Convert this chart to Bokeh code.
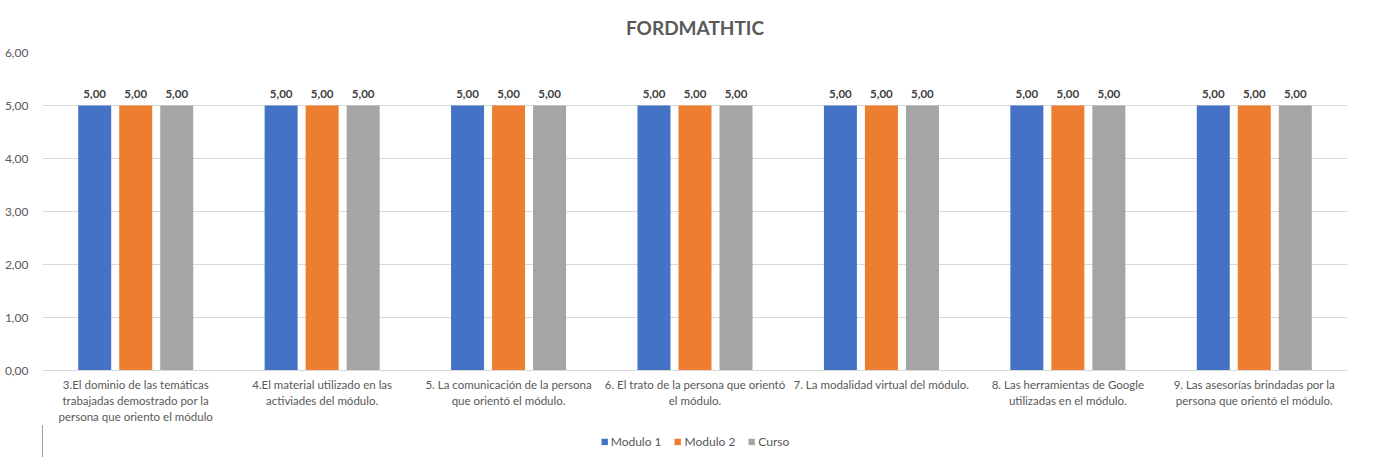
from bokeh.plotting import figure
from bokeh.layouts import column
from bokeh.models import (ColumnDataSource, FixedTicker, LabelSet, Legend, LegendItem,
                          Range1d, LinearAxis)
from bokeh.core.properties import value
from bokeh.transform import dodge
from bokeh.embed import file_html
from bokeh.resources import INLINE

category_lines = [
    ["3.El dominio de las temáticas", "trabajadas demostrado por la", "persona que oriento el módulo"],
    ["4.El material utilizado en las", "activiades del módulo."],
    ["5. La comunicación de la persona", "que orientó el módulo."],
    ["6. El trato de la persona que orientó", "el módulo."],
    ["7. La modalidad virtual del módulo."],
    ["8. Las herramientas de Google", "utilizadas en el módulo."],
    ["9. Las asesorías brindadas por la", "persona que orientó el módulo."],
]
series_names = ["Modulo 1", "Modulo 2", "Curso"]
modulo1 = [5.0, 5.0, 5.0, 5.0, 5.0, 5.0, 5.0]
modulo2 = [5.0, 5.0, 5.0, 5.0, 5.0, 5.0, 5.0]
curso = [5.0, 5.0, 5.0, 5.0, 5.0, 5.0, 5.0]
y_ticks = [0, 1, 2, 3, 4, 5, 6]
y_tick_labels = ["0,00", "1,00", "2,00", "3,00", "4,00", "5,00", "6,00"]
colors = ["#4472C4", "#ED7D31", "#A5A5A5"]

FONT = "Lato"
GRAY = "#595959"

def fmt(v):
    return f"{v:.2f}".replace(".", ",")

idx = list(range(len(category_lines)))
source = ColumnDataSource(data=dict(
    x=idx,
    m1=modulo1, m2=modulo2, cu=curso,
    m1_l=[fmt(v) for v in modulo1],
    m2_l=[fmt(v) for v in modulo2],
    cu_l=[fmt(v) for v in curso],
))

p = figure(
    x_range=Range1d(-0.5, len(idx) - 0.5),
    y_range=Range1d(0, 6),
    frame_width=1305, frame_height=318,
    min_border_left=42, min_border_right=15, min_border_top=52, min_border_bottom=0,
    output_backend="svg", toolbar_location=None,
    title="FORDMATHTIC",
)
p.title.align = "center"
p.title.text_font = FONT
p.title.text_font_size = "19px"
p.title.text_font_style = "bold"
p.title.text_color = GRAY
p.title.standoff = 27

offsets = [-0.22, 0.0, 0.22]
cols = ["m1", "m2", "cu"]
for col, off, color in zip(cols, offsets, colors):
    p.vbar(x=dodge("x", off), top=col, width=0.177,
           source=source, color=color, line_color=None)
    lbl = LabelSet(x=dodge("x", off), y=col, text=col + "_l",
                   source=source, text_align="center", text_baseline="bottom",
                   y_offset=8, text_font=value(FONT), text_font_size=value("11.5px"),
                   text_font_style="bold", text_color="#404040")
    p.add_layout(lbl)

p.outline_line_color = None
p.background_fill_color = "white"
p.border_fill_color = "white"

p.yaxis.ticker = FixedTicker(ticks=y_ticks)
p.yaxis.major_label_overrides = {t: l for t, l in zip(y_ticks, y_tick_labels)}
p.yaxis.axis_line_color = None
p.yaxis.major_tick_line_color = None
p.yaxis.minor_tick_line_color = None
p.yaxis.major_tick_out = 0
p.yaxis.major_label_text_font = FONT
p.yaxis.major_label_text_font_size = "12px"
p.yaxis.major_label_text_color = GRAY
p.yaxis.major_label_standoff = 14

# one x axis per line of the wrapped category labels
max_lines = max(len(s) for s in category_lines)
standoffs = [7, 0, 0]
x_axes = [p.xaxis[0]]
for i in range(1, max_lines):
    ax = LinearAxis()
    p.add_layout(ax, "below")
    x_axes.append(ax)
for i, ax in enumerate(x_axes):
    ticks = [j for j in idx if len(category_lines[j]) > i]
    ax.ticker = FixedTicker(ticks=ticks)
    ax.major_label_overrides = {j: category_lines[j][i] for j in ticks}
    ax.axis_line_color = "#d9d9d9" if i == 0 else None
    ax.major_tick_line_color = None
    ax.minor_tick_line_color = None
    ax.major_tick_out = 0
    ax.major_tick_in = 0
    ax.minor_tick_out = 0
    ax.major_label_text_font = FONT
    ax.major_label_text_font_size = "11.5px"
    ax.major_label_text_color = GRAY
    ax.major_label_standoff = standoffs[i]

p.xgrid.grid_line_color = None
p.ygrid.grid_line_color = "#d9d9d9"
p.ygrid.ticker = FixedTicker(ticks=y_ticks)

# legend strip below the chart (its renderers lie outside its visible range)
lg = figure(width=1362, height=32, x_range=Range1d(100, 101), y_range=Range1d(0, 1),
            min_border=0, output_backend="svg", toolbar_location=None)
lg.axis.visible = False
lg.grid.visible = False
lg.outline_line_color = None
items = []
for col, color, name in zip(cols, colors, series_names):
    r = lg.vbar(x="x", top=col, width=0.177, source=source, color=color, line_color=None)
    items.append(LegendItem(label=name, renderers=[r]))
legend = Legend(items=items, orientation="horizontal", location="center",
                label_text_font=FONT, label_text_font_size="12px",
                label_text_color=GRAY, glyph_width=8, glyph_height=8,
                spacing=12, label_standoff=3, border_line_color=None,
                background_fill_alpha=0, padding=0, margin=0)
lg.add_layout(legend, "center")

layout = column(p, lg, spacing=0)
open("out.html", "w").write(file_html(layout, INLINE))
